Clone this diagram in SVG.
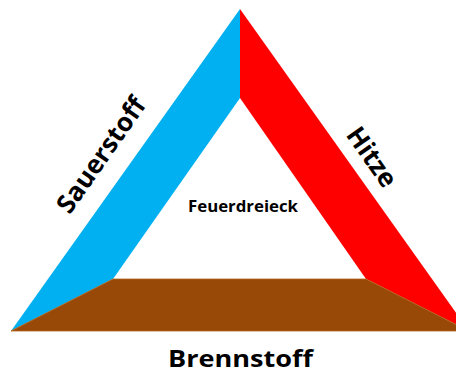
<svg xmlns="http://www.w3.org/2000/svg" width="456" height="373" viewBox="0 0 456 373">
  <style>
    .lbl { font-family: "Open Sans", "Liberation Sans", sans-serif; font-weight: 700; fill: #000; text-anchor: middle; }
  </style>
  <rect width="456" height="373" fill="#fff"/>
  <g id="sauerstoff">
    <polygon points="240,9 240,98 113,279 11,331" fill="#00B0F0"/>
    <text class="lbl" font-size="26" transform="translate(101,155) rotate(-55)" y="9">Sauerstoff</text>
  </g>
  <g id="hitze">
    <polygon points="240,9 469,331 366,279 240,98" fill="#FF0000"/>
    <text class="lbl" font-size="26" transform="translate(372,157) rotate(55)" y="9">Hitze</text>
  </g>
  <g id="brennstoff">
    <polygon points="11,331 113,279 366,279 469,331" fill="#984807" stroke="#B5651D" stroke-width="0.8"/>
    <text class="lbl" font-size="24" x="240.5" y="366.5" textLength="145" lengthAdjust="spacingAndGlyphs">Brennstoff</text>
  </g>
  <g id="feuerdreieck">
    <text class="lbl" font-size="16" x="243" y="212" textLength="110" lengthAdjust="spacingAndGlyphs">Feuerdreieck</text>
  </g>
  <g id="connectors"/>
</svg>
